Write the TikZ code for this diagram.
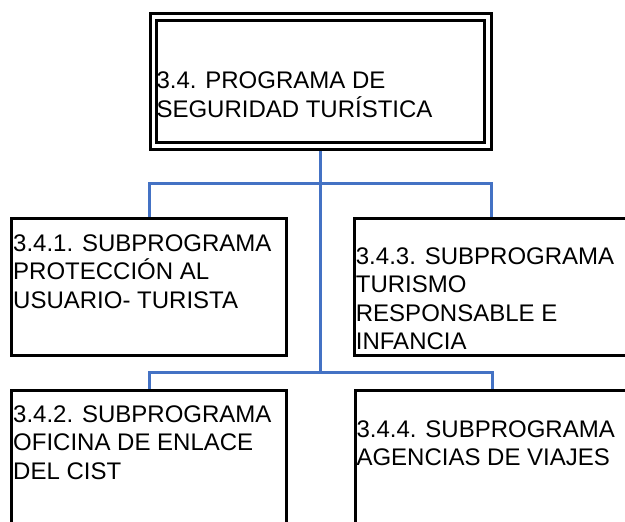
\documentclass[tikz,border=0pt]{standalone}
\usepackage{fontspec}
\setmainfont{Liberation Sans}
\usepackage{tikz}
\usetikzlibrary{calc}
\definecolor{azul}{RGB}{68,114,196}
\newcommand{\rama}[2]{\draw[linea] (#1) -| (#2);}

\begin{document}
\begin{tikzpicture}[x=1pt,y=-1pt,
		caja/.style={draw,line width=3pt,minimum width=274.7pt,minimum height=137pt,inner sep=0pt},
		texto/.style={anchor=base west,align=left,inner sep=0pt,font=\fontsize{24}{28.4}\selectfont},
		linea/.style={line width=3pt,draw=azul}]
			\clip (0,0) rectangle (625,522);
			\node[caja,double,double distance=3.7pt,outer sep=4.85pt,minimum width=334.5pt,minimum height=129.3pt](prog) at (320.8,81.3) {};
			\node[caja](sp1) at (149.3,286.5) {};
			\node[caja](sp3) at (491.7,286.5) {};
			\node[caja](sp2) at (149.3,458.5) {};
			\node[caja](sp4) at (492.5,458.5) {};
			
			\node[texto](tprog) at (156.3,117) {3.4. PROGRAMA DE\\SEGURIDAD TURÍSTICA};
			\node[texto](tsp1) at (13,308) {3.4.1. SUBPROGRAMA\\PROTECCIÓN AL\\USUARIO- TURISTA};
			\node[texto](tsp3) at (355.7,349.5) {3.4.3. SUBPROGRAMA\\TURISMO\\RESPONSABLE E\\INFANCIA};
			\node[texto](tsp2) at (13,479) {3.4.2. SUBPROGRAMA\\OFICINA DE ENLACE\\DEL CIST};
			\node[texto](tsp4) at (356.3,465.7) {3.4.4. SUBPROGRAMA\\AGENCIAS DE VIAJES};
			
			\coordinate (j1) at (320.8,183.3);
			\coordinate (j2) at (320.8,372);
			
			\draw[linea] (prog.south) -- (j1) -- (j2);
			\rama{j1}{sp1.north}
			\rama{j1}{sp3.north}
			\rama{j2}{sp2.north}
			\rama{j2}{sp4.north}
		\end{tikzpicture}
\end{document}
